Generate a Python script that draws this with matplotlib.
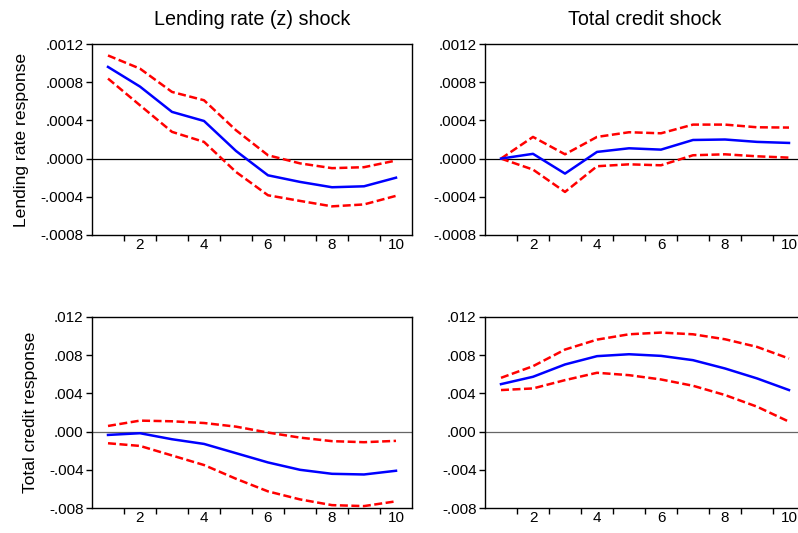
import numpy as np
from matplotlib import pyplot as plt

plt.rcParams['font.family'] = ['Liberation Sans', 'DejaVu Sans']

periods = np.arange(1, 11)

# Lending rate response
lr_z_mid = [0.00096, 0.000754, 0.000489, 0.000394, 0.00008, -0.000175, -0.000244, -0.0003, -0.00029, -0.0002]
lr_z_hi = [0.00108, 0.000942, 0.000698, 0.000611, 0.000297, 0.000035, -0.00005, -0.0001, -0.00009, -0.00002]
lr_z_lo = [0.000838, 0.000558, 0.00028, 0.000175, -0.00014, -0.000384, -0.000443, -0.0005, -0.00048, -0.00039]

lr_c_mid = [0.0, 0.00005, -0.000157, 0.00007, 0.000108, 0.000094, 0.000195, 0.0002, 0.000175, 0.000164]
lr_c_hi = [0.0, 0.000227, 0.000045, 0.000227, 0.000276, 0.000265, 0.000356, 0.000356, 0.000328, 0.000325]
lr_c_lo = [0.0, -0.000115, -0.000349, -0.00008, -0.00006, -0.00007, 0.000035, 0.000045, 0.000024, 0.00001]

# Total credit response
tc_z_mid = [-0.00035, -0.00017, -0.0008, -0.00129, -0.00226, -0.00323, -0.004, -0.00442, -0.00449, -0.0041]
tc_z_hi = [0.00059, 0.00115, 0.00108, 0.0009, 0.00052, -0.0001, -0.00063, -0.001, -0.00111, -0.00097]
tc_z_lo = [-0.00122, -0.0015, -0.0025, -0.0035, -0.00494, -0.00626, -0.0071, -0.0077, -0.0078, -0.0073]

tc_c_mid = [0.00497, 0.00574, 0.00703, 0.0079, 0.0081, 0.00793, 0.00748, 0.00661, 0.00557, 0.00435]
tc_c_hi = [0.00563, 0.00685, 0.00859, 0.00963, 0.01019, 0.01037, 0.01019, 0.00967, 0.00887, 0.00765]
tc_c_lo = [0.00435, 0.00452, 0.00539, 0.00616, 0.00591, 0.00546, 0.0048, 0.00383, 0.00261, 0.00104]

col_titles = ['Lending rate (z) shock', 'Total credit shock']
row_labels = ['Lending rate response', 'Total credit response']

lr_ticks = [-0.0008, -0.0004, 0.0, 0.0004, 0.0008, 0.0012]
lr_ticklabels = ['-.0008', '-.0004', '.0000', '.0004', '.0008', '.0012']
tc_ticks = [-0.008, -0.004, 0.0, 0.004, 0.008, 0.012]
tc_ticklabels = ['-.008', '-.004', '.000', '.004', '.008', '.012']

panels = [
    [(lr_z_mid, lr_z_hi, lr_z_lo), (lr_c_mid, lr_c_hi, lr_c_lo)],
    [(tc_z_mid, tc_z_hi, tc_z_lo), (tc_c_mid, tc_c_hi, tc_c_lo)],
]

fig = plt.figure(figsize=(7.98, 5.33), dpi=100)

lefts = [92 / 798, 485 / 798]
bottoms = [1 - 235 / 533, 1 - 508 / 533]
w = 320 / 798
h = 191 / 533

for r in range(2):
    ticks = lr_ticks if r == 0 else tc_ticks
    ticklabels = lr_ticklabels if r == 0 else tc_ticklabels
    zero_col = 'black' if r == 0 else '#666666'
    for c in range(2):
        ax = fig.add_axes([lefts[c], bottoms[r], w, h])
        mid, hi, lo = panels[r][c]
        ax.axhline(0, color=zero_col, linewidth=0.9, zorder=1)
        ax.plot(periods, hi, color='red', linewidth=1.8, dashes=(3.2, 1.4), zorder=3)
        ax.plot(periods, lo, color='red', linewidth=1.8, dashes=(3.2, 1.4), zorder=3)
        ax.plot(periods, mid, color='blue', linewidth=1.8, zorder=4)

        ax.set_xlim(0.5, 10.5)
        ax.set_ylim(ticks[0], ticks[-1])
        ax.set_yticks(ticks)
        ax.set_yticklabels(ticklabels)
        ax.set_xticks(np.arange(1.5, 10, 1))
        ax.set_xticklabels([])
        ax.set_xticks([2, 4, 6, 8, 10], minor=True)
        ax.set_xticklabels(['2', '4', '6', '8', '10'], minor=True)
        ax.tick_params(axis='x', which='major', direction='out', length=4, width=1)
        ax.tick_params(axis='x', which='minor', length=0, labelsize=11, pad=2)
        ax.tick_params(axis='y', direction='out', length=4, width=1, labelsize=11, pad=2)
        for sp in ax.spines.values():
            sp.set_linewidth(1.0)

        if r == 0:
            ax.set_title(col_titles[c], fontsize=14.2, pad=14)
        if c == 0:
            ax.set_ylabel(row_labels[r], fontsize=12.6, labelpad=8)

fig.savefig('out.png', dpi=100)
